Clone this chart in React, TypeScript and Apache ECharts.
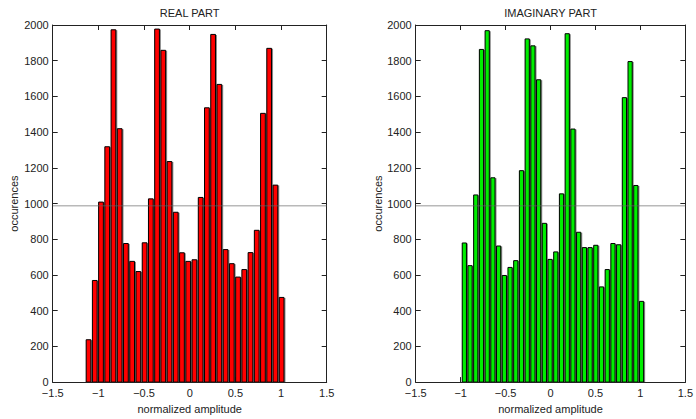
import React, { useEffect, useRef } from "react";
import * as echarts from "echarts";

// Histogram counts, 32 bins each
const REAL_COUNTS = [
  240, 572, 1011, 1321, 1976, 1422, 779, 679, 622, 783, 1029, 1980, 1861, 1238, 954, 727,
  679, 688, 1037, 1539, 1950, 1670, 745, 666, 591, 633, 728, 853, 1508, 1872, 1106, 477,
];
const IMAG_COUNTS = [
  782, 655, 1051, 1866, 1971, 1147, 765, 600, 645, 683, 1187, 1925, 1886, 1696, 892, 690,
  732, 1057, 1954, 1420, 842, 756, 756, 769, 536, 633, 779, 772, 1596, 1798, 1104, 455,
];

// Bin layout on the normalized amplitude axis
const REAL_FIRST_EDGE = -1.139;
const REAL_BIN_WIDTH = 0.0682;
const IMAG_FIRST_EDGE = -0.988;
const IMAG_BIN_WIDTH = 0.0636;

// Reference level drawn across both panels
const MEAN_LEVEL = 988;

const X_MIN = -1.5;
const X_MAX = 1.5;
const X_STEP = 0.5;
const Y_MIN = 0;
const Y_MAX = 2000;
const Y_STEP = 200;

const PANEL_TITLES = ["REAL PART", "IMAGINARY PART"];
const X_NAME = "normalized amplitude";
const Y_NAME = "occurences";

const FONT = "'Liberation Sans', Arial, Helvetica, sans-serif";

function toBins(counts: number[], firstEdge: number, width: number) {
  return counts.map((c, i) => [firstEdge + i * width, firstEdge + (i + 1) * width, c]);
}

function makeRenderItem(color: string) {
  return (params: any, api: any) => {
    const x0 = api.value(0);
    const x1 = api.value(1);
    const c = api.value(2);
    const p0 = api.coord([x0, c]);
    const p1 = api.coord([x1, 0]);
    const w = p1[0] - p0[0];
    const h = p1[1] - p0[1];
    return {
      type: "group",
      children: [
        {
          type: "rect",
          shape: { x: p0[0] + 0.5, y: p0[1] + 1, width: w, height: h - 1 },
          style: { fill: "#8a8a8a" },
        },
        {
          type: "rect",
          shape: { x: p0[0] + 0.5, y: p0[1] + 0.5, width: w - 1.5, height: h - 0.5 },
          style: { fill: color, stroke: "#000", lineWidth: 1 },
        },
      ],
    };
  };
}

const minusFmt = (v: number) => String(v).replace("-", "\u2212");
const plainFmt = (v: number) => String(v);

export default function App() {
  const ref = useRef<HTMLDivElement>(null);

  useEffect(() => {
    if (!ref.current) return;
    const chart = echarts.init(ref.current, undefined, { renderer: "svg" });

    const grids = [
      { left: 52.7, right: 369.3, top: 25, bottom: 30.7 },
      { left: 415.7, right: 5.1, top: 25, bottom: 30.7 },
    ];
    const yNameGaps = [33, 25];

    const xAxes: any[] = [];
    const yAxes: any[] = [];
    const axisLine = { show: true, onZero: false, lineStyle: { color: "#222", width: 1 } };
    const axisTick = { show: true, inside: true, length: 5, lineStyle: { color: "#222" } };
    const labelStyle = { fontFamily: FONT, fontSize: 11, color: "#222" };

    grids.forEach((_, g) => {
      xAxes.push({
        type: "value",
        gridIndex: g,
        position: "bottom",
        min: X_MIN,
        max: X_MAX,
        interval: X_STEP,
        name: X_NAME,
        nameLocation: "middle",
        nameGap: 18,
        nameTextStyle: labelStyle,
        axisLine,
        axisTick,
        splitLine: { show: false },
        axisLabel: { ...labelStyle, margin: 5, formatter: minusFmt },
      });
      xAxes.push({
        type: "value",
        gridIndex: g,
        position: "top",
        min: X_MIN,
        max: X_MAX,
        interval: X_STEP,
        name: PANEL_TITLES[g],
        nameLocation: "middle",
        nameGap: 7,
        nameTextStyle: labelStyle,
        axisLine,
        axisTick,
        splitLine: { show: false },
        axisLabel: { show: false },
      });
      yAxes.push({
        type: "value",
        gridIndex: g,
        position: "left",
        min: Y_MIN,
        max: Y_MAX,
        interval: Y_STEP,
        name: Y_NAME,
        nameLocation: "middle",
        nameGap: yNameGaps[g],
        nameTextStyle: labelStyle,
        axisLine,
        axisTick,
        splitLine: { show: false },
        axisLabel: { ...labelStyle, margin: 4, formatter: plainFmt },
      });
      yAxes.push({
        type: "value",
        gridIndex: g,
        position: "right",
        min: Y_MIN,
        max: Y_MAX,
        interval: Y_STEP,
        axisLine,
        axisTick,
        splitLine: { show: false },
        axisLabel: { show: false },
      });
    });

    const panels = [
      { data: toBins(REAL_COUNTS, REAL_FIRST_EDGE, REAL_BIN_WIDTH), color: "#ff0000" },
      { data: toBins(IMAG_COUNTS, IMAG_FIRST_EDGE, IMAG_BIN_WIDTH), color: "#00ee00" },
    ];

    const series: any[] = [];
    panels.forEach((p, g) => {
      series.push({
        type: "custom",
        xAxisIndex: g * 2,
        yAxisIndex: g * 2,
        data: p.data,
        encode: { x: [0, 1], y: 2 },
        renderItem: makeRenderItem(p.color),
        clip: true,
        z: 2,
      });
      series.push({
        type: "line",
        xAxisIndex: g * 2,
        yAxisIndex: g * 2,
        data: [
          [X_MIN, MEAN_LEVEL],
          [X_MAX, MEAN_LEVEL],
        ],
        showSymbol: false,
        symbol: "none",
        lineStyle: { color: "rgba(100,100,100,0.45)", width: 1.5 },
        z: 3,
      });
    });

    chart.setOption({
      animation: false,
      backgroundColor: "#fff",
      grid: grids,
      xAxis: xAxes,
      yAxis: yAxes,
      series,
    });

    return () => chart.dispose();
  }, []);

  return (
    <div
      ref={ref}
      style={{ position: "fixed", left: 0, top: 0, width: 696, height: 419 }}
    />
  );
}
